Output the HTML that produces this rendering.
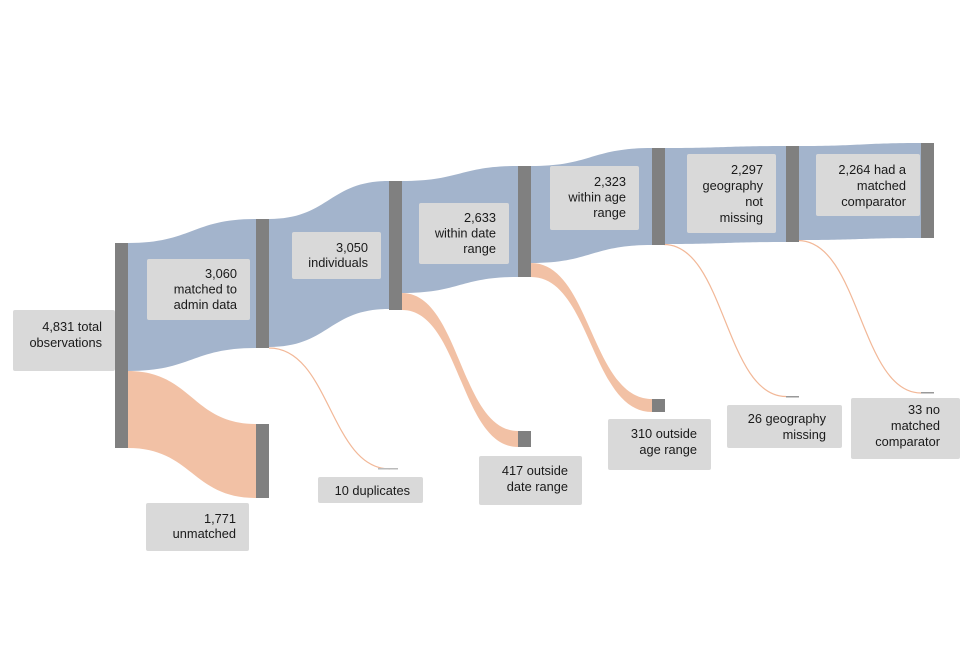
<!DOCTYPE html>
<html><head><style>
body{margin:0;background:#fff;}
svg text{font-family:"Liberation Sans",Arial,sans-serif;font-size:12.8px;fill:#1a1a1a;text-anchor:end;}
</style></head><body>
<svg width="960" height="640" viewBox="0 0 960 640" xmlns="http://www.w3.org/2000/svg">
<g fill="#a3b4cc">
<path d="M128,243 C192,243 192,219 256,219 L256,348 C192,348 192,371 128,371 Z"/>
<path d="M269,219 C329,219 329,181 389,181 L389,309 C329,309 329,347 269,347 Z"/>
<path d="M402,181 C460,181 460,166 518,166 L518,277 C460,277 460,293 402,293 Z"/>
<path d="M531,166 C591,166 591,148 652,148 L652,245 C591,245 591,263 531,263 Z"/>
<path d="M664,148 C725,148 725,146 786,146 L786,242 C725,242 725,244 664,244 Z"/>
<path d="M798,146 C860,146 860,143 921,143 L921,238 C860,238 860,240 798,240 Z"/>
</g>
<g fill="#f2c1a5">
<path d="M128,371 C192,371 192,424 256,424 L256,498 C192,498 192,448 128,448 Z"/>
<path d="M402,293 C460,293 460,431 518,431 L518,447 C460,447 460,310 402,310 Z"/>
<path d="M531,263 C591,263 591,399 652,399 L652,412 C591,412 591,277 531,277 Z"/>
</g>
<g fill="none" stroke="#f2b898" stroke-width="1.2">
<path d="M269,348 C330,348 330,469 390,469"/>
<path d="M664,244.5 C725,244.5 725,396.5 786,396.5"/>
<path d="M798,240.5 C860,240.5 860,393 921,393"/>
</g>
<g fill="#808080">
<rect x="115" y="243" width="13" height="205"/>
<rect x="256" y="219" width="13" height="129"/>
<rect x="256" y="424" width="13" height="74"/>
<rect x="389" y="181" width="13" height="129"/>
<rect x="378" y="468" width="20" height="1.5" fill="#bbb"/>
<rect x="518" y="166" width="13" height="111"/>
<rect x="518" y="431" width="13" height="16"/>
<rect x="652" y="148" width="13" height="97"/>
<rect x="652" y="399" width="13" height="13"/>
<rect x="786" y="146" width="13" height="96"/>
<rect x="786" y="396" width="13" height="1.5" fill="#999"/>
<rect x="921" y="143" width="13" height="95"/>
<rect x="921" y="392" width="13" height="1.5" fill="#999"/>
</g>
<g fill="#d9d9d9">
<rect x="13" y="310" width="102" height="61" rx="2"/>
<rect x="147" y="259" width="103" height="61" rx="2"/>
<rect x="292" y="232" width="89" height="47" rx="2"/>
<rect x="419" y="203" width="90" height="61" rx="2"/>
<rect x="550" y="166" width="89" height="64" rx="2"/>
<rect x="687" y="154" width="89" height="79" rx="2"/>
<rect x="816" y="154" width="104" height="62" rx="2"/>
<rect x="146" y="503" width="103" height="48" rx="2"/>
<rect x="318" y="477" width="105" height="26" rx="2"/>
<rect x="479" y="456" width="103" height="49" rx="2"/>
<rect x="608" y="419" width="103" height="51" rx="2"/>
<rect x="727" y="405" width="115" height="43" rx="2"/>
<rect x="851" y="398" width="109" height="61" rx="2"/>
</g>
<text x="102" y="331">4,831 total</text><text x="102" y="347">observations</text>
<text x="237" y="278">3,060</text><text x="237" y="293.5">matched to</text><text x="237" y="309">admin data</text>
<text x="368" y="252">3,050</text><text x="368" y="267">individuals</text>
<text x="496" y="222">2,633</text><text x="496" y="237.5">within date</text><text x="496" y="253">range</text>
<text x="626" y="186">2,323</text><text x="626" y="201.5">within age</text><text x="626" y="217">range</text>
<text x="763" y="174">2,297</text><text x="763" y="190">geography</text><text x="763" y="206">not</text><text x="763" y="222">missing</text>
<text x="906" y="174">2,264 had a</text><text x="906" y="190">matched</text><text x="906" y="206">comparator</text>
<text x="236" y="523">1,771</text><text x="236" y="538">unmatched</text>
<text x="410" y="495">10 duplicates</text>
<text x="568" y="475">417 outside</text><text x="568" y="491">date range</text>
<text x="697" y="438">310 outside</text><text x="697" y="454">age range</text>
<text x="826" y="423">26 geography</text><text x="826" y="439">missing</text>
<text x="940" y="414">33 no</text><text x="940" y="430">matched</text><text x="940" y="446">comparator</text>
</svg>
</body></html>
